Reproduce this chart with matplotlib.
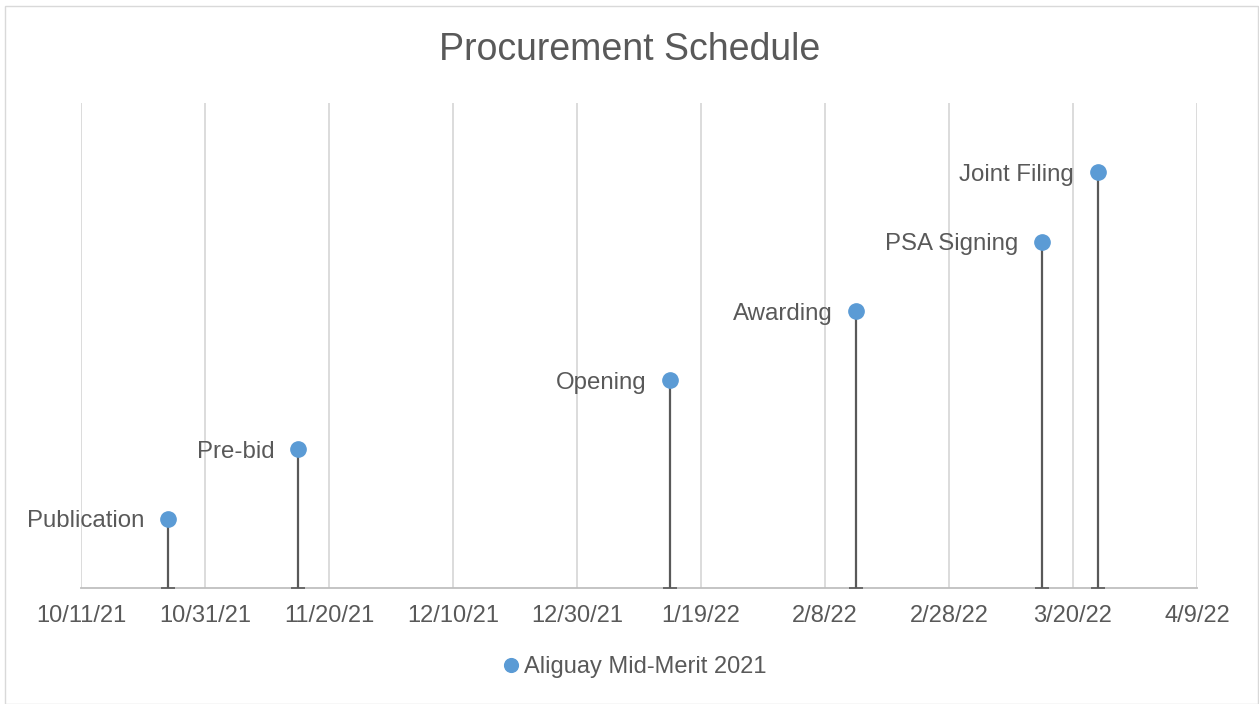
import datetime as dt
import matplotlib
matplotlib.use('Agg')
import matplotlib.pyplot as plt
import matplotlib.dates as mdates
from matplotlib.patches import Rectangle

# data
events = ['Publication', 'Pre-bid', 'Opening', 'Awarding', 'PSA Signing', 'Joint Filing']
dates = ['2021-10-25', '2021-11-15', '2022-01-14', '2022-02-13', '2022-03-15', '2022-03-24']
heights = [1, 2, 3, 4, 5, 6]
series_name = 'Aliguay Mid-Merit 2021'

start = dt.date(2021, 10, 11)
end = dt.date(2022, 4, 9)

plt.rcParams['font.family'] = ['Liberation Sans', 'DejaVu Sans']
text_col = '#595959'
blue = '#5B9BD5'

x = [mdates.date2num(dt.date.fromisoformat(d)) for d in dates]

fig = plt.figure(figsize=(12.59, 7.04), dpi=100)
fig.patches.append(Rectangle((5 / 1259, 0), 1253 / 1259, 698 / 704, transform=fig.transFigure,
                             fill=False, edgecolor='#D9D9D9', linewidth=1))
ax = fig.add_axes([81 / 1259, 1 - 588 / 704, 1116 / 1259, 485 / 704])

# drop lines with small caps at the bottom
eb = ax.errorbar(x, heights, yerr=[heights, [0] * len(heights)], fmt='none',
                 ecolor='#595959', elinewidth=1.6, capsize=5, capthick=1.2, zorder=3)
for art in eb.lines[1] + eb.lines[2]:
    art.set_clip_on(False)
ax.plot(x, heights, 'o', color=blue, markersize=11, zorder=4, label=series_name)

for xi, yi, name in zip(x, heights, events):
    ax.annotate(name, (xi, yi), xytext=(-17, -2), textcoords='offset points',
                ha='right', va='center', fontsize=17.3, color=text_col)

ax.set_xlim(mdates.date2num(start), mdates.date2num(end))
ax.set_ylim(0, 7)
ticks = [mdates.date2num(start + dt.timedelta(days=20 * i)) for i in range(10)]
ax.set_xticks(ticks)
ax.xaxis.set_major_formatter(plt.FuncFormatter(
    lambda v, p: '{}/{}/{}'.format(mdates.num2date(v).month, mdates.num2date(v).day,
                                   mdates.num2date(v).strftime('%y'))))
ax.tick_params(axis='x', length=0, labelsize=17, labelcolor=text_col, pad=12)
ax.set_yticks([])
ax.grid(axis='x', color='#D9D9D9', linewidth=1.3)
ax.set_axisbelow(True)
for s in ['top', 'right', 'left']:
    ax.spines[s].set_visible(False)
ax.spines['bottom'].set_color('#BFBFBF')
ax.spines['bottom'].set_linewidth(1.3)
ax.spines['bottom'].set_zorder(2)

fig.text(0.5, 1 - 50 / 704, 'Procurement Schedule', ha='center', va='center',
         fontsize=27, color=text_col)
fig.legend(loc='center', bbox_to_anchor=(0.5 + 5 / 1259, 1 - 667 / 704), frameon=False,
           fontsize=17, labelcolor=text_col, handlelength=0.8, handletextpad=0.15,
           markerscale=0.9)

fig.savefig('out.png', dpi=100)
